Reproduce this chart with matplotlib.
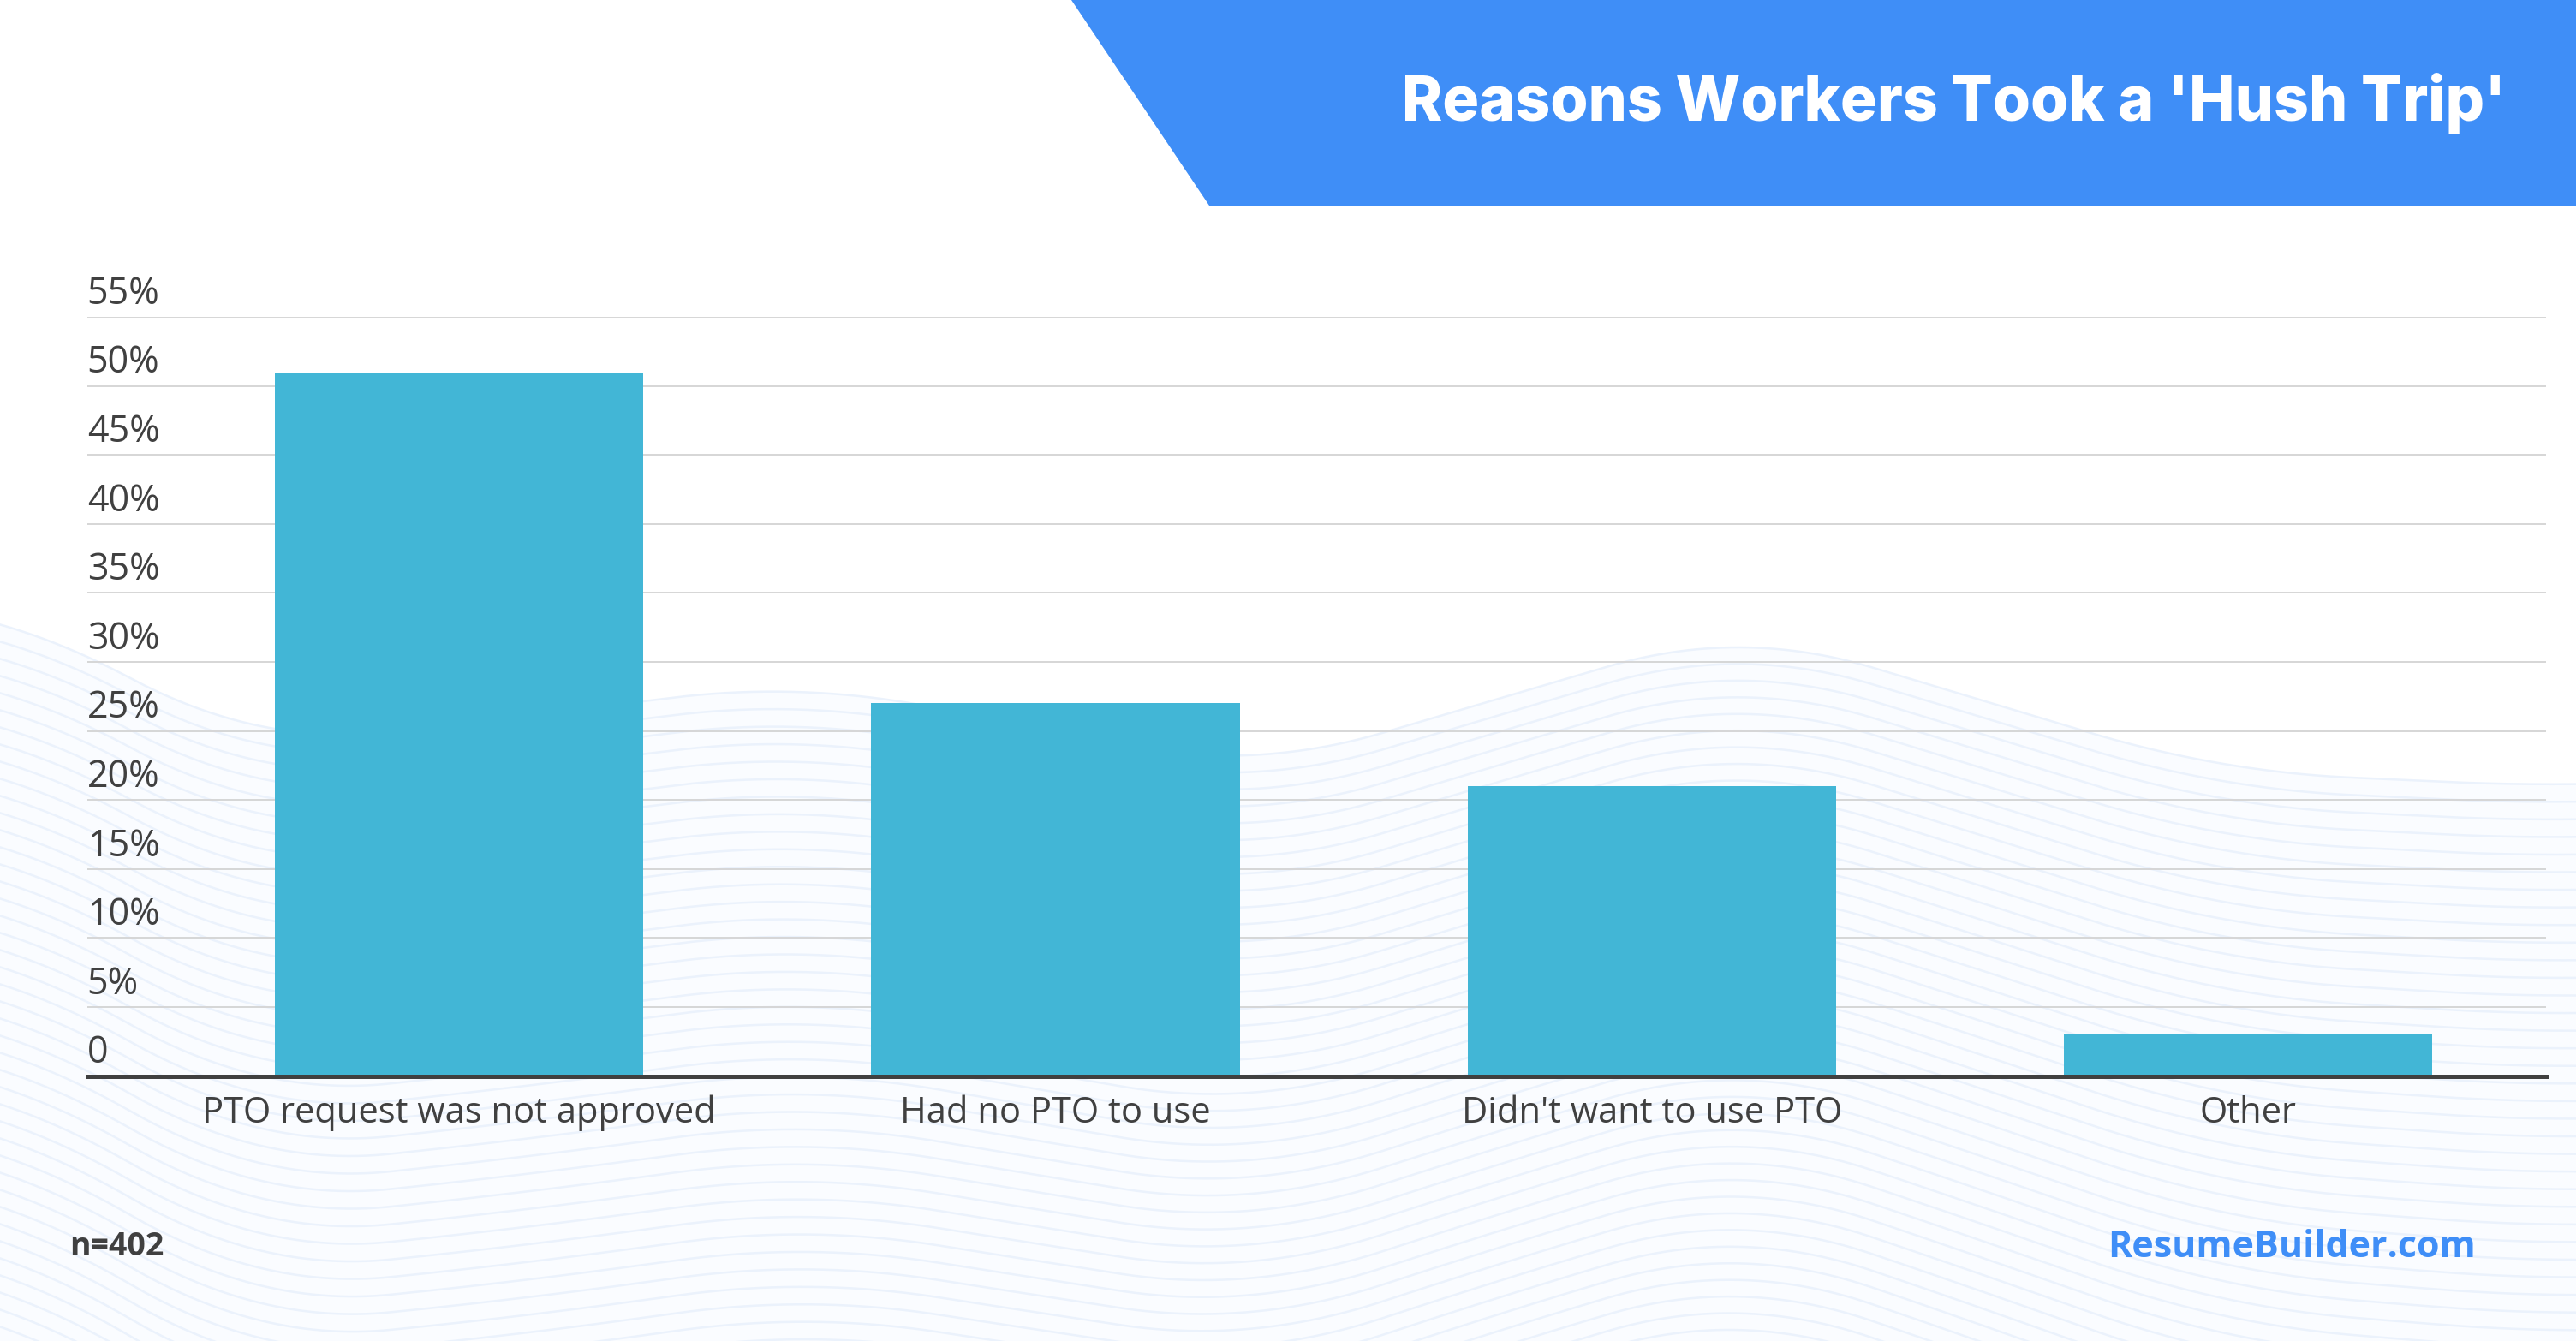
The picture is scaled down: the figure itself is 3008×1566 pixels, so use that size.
import numpy as np
import matplotlib
matplotlib.use("Agg")
import matplotlib.pyplot as plt
from matplotlib.patches import Polygon

categories = ["PTO request was not approved", "Had no PTO to use", "Didn't want to use PTO", "Other"]
shares = [51, 27, 21, 3]
yticks = [0, 5, 10, 15, 20, 25, 30, 35, 40, 45, 50, 55]

title = "Reasons Workers Took a 'Hush Trip'"
note = "n=402"
brand = "ResumeBuilder.com"

bar_color = "#42B6D6"
blue = "#3F8EF7"
text_color = "#404040"

W, H = 3008, 1566
fig = plt.figure(figsize=(W / 100, H / 100), dpi=100)

# background: faint wavy lines (decoration only)
bg = fig.add_axes([0, 0, 1, 1], zorder=0)
bg.set_xlim(0, W)
bg.set_ylim(H, 0)
bg.axis("off")
xs = np.linspace(-300, W + 300, 1400)
wx = [-300, 0, 300, 940, 1460, 2030, 2590, 3008, 3300]
wy = [700, 710, 873, 796, 901, 733, 901, 920, 900]
top = np.interp(xs, wx, wy)
k = np.ones(120) / 120
top = np.convolve(np.pad(top, 60, mode="edge"), k, mode="same")[60:-60]
bg.fill_between(xs, top, H, color="#FAFCFF", lw=0)
for i in range(48):
    yy = top + i * 20 + i * 0.6 * np.sin(xs / W * 2 * np.pi * 1.2)
    bg.plot(xs, yy, color="#EBF2FC", lw=1.8)

# title banner
banner = Polygon([[1251, 0], [W, 0], [W, 240], [1412, 240]], closed=True,
                 facecolor=blue, edgecolor="none")
bg.add_patch(banner)
bg.text(2926, 121, title, color="white", fontsize=51.5, fontweight="heavy",
        family=["Inter", "DejaVu Sans"], ha="right", va="center")

bg.text(81, 1456, note, color=text_color, fontsize=27, fontweight="bold",
        family=["Open Sans", "DejaVu Sans"], ha="left", va="center")
bg.text(2891, 1456, brand, color=blue, fontsize=31, fontweight="bold",
        family=["Open Sans", "DejaVu Sans"], ha="right", va="center")

# main chart
ax = fig.add_axes([0.0338, 0.1976, 0.9547, 0.5661], zorder=1)
ax.patch.set_alpha(0)
x = np.arange(len(categories))
ax.bar(x, shares, width=0.618, color=bar_color, zorder=3)
ax.set_xlim(-0.624, 3.5)
ax.set_ylim(0, 55)

ax.set_yticks(yticks)
ax.set_yticklabels([])
ax.tick_params(axis="y", length=0)
ax.grid(axis="y", color="#D6D6D6", lw=1.4, zorder=1)
for s in ["top", "right", "left"]:
    ax.spines[s].set_visible(False)
ax.spines["bottom"].set_color("#404040")
ax.spines["bottom"].set_linewidth(3.6)
ax.spines["bottom"].set_zorder(4)

for v in yticks:
    lab = "0" if v == 0 else f"{v}%"
    ax.annotate(lab, (0, v), xycoords=("axes fraction", "data"),
                xytext=(0, 3), textcoords="offset points",
                ha="left", va="bottom", fontsize=31, color=text_color,
                family=["Open Sans", "DejaVu Sans"])

ax.set_xticks(x)
ax.set_xticklabels(categories, fontsize=30, color=text_color,
                   family=["Open Sans", "DejaVu Sans"])
ax.tick_params(axis="x", length=0, pad=16)

fig.savefig("out.png", dpi=100)
